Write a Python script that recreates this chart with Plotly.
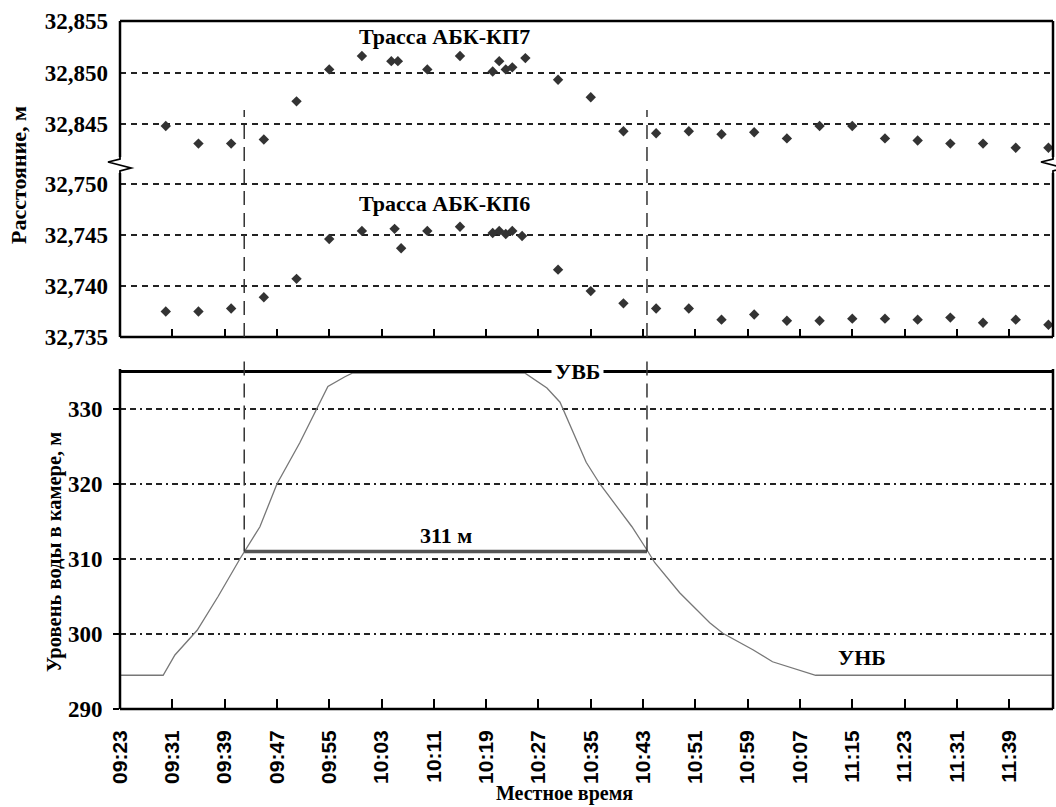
import plotly.graph_objects as go

# ---------------- data ----------------
tick_minutes = [0, 8, 16, 24, 32, 40, 48, 56, 64, 72, 80, 88, 96, 104, 112, 120, 128, 136]
tick_labels = ["09:23", "09:31", "09:39", "09:47", "09:55", "10:03", "10:11", "10:19", "10:27",
               "10:35", "10:43", "10:51", "10:59", "10:07", "11:15", "11:23", "11:31", "11:39"]

# minutes after 09:23
kp7_t = [7, 12, 17, 22, 27, 32, 37, 41.5, 42.5, 47, 52, 57, 58, 59, 60, 62, 67, 72, 77, 82, 87,
         92, 97, 102, 107, 112, 117, 122, 127, 132, 137, 142]
kp7_d = [32.8448, 32.8431, 32.8431, 32.8435, 32.8472, 32.8503, 32.8516, 32.8511, 32.8511, 32.8503,
         32.8516, 32.8501, 32.8511, 32.8503, 32.8505, 32.8514, 32.8493, 32.8476, 32.8443, 32.8441,
         32.8443, 32.8440, 32.8442, 32.8436, 32.8448, 32.8448, 32.8436, 32.8434, 32.8431, 32.8431,
         32.8427, 32.8427]

kp6_t = [7, 12, 17, 22, 27, 32, 37, 42, 43, 47, 52, 57, 58, 59, 60, 61.5, 67, 72, 77, 82, 87,
         92, 97, 102, 107, 112, 117, 122, 127, 132, 137, 142]
kp6_d = [32.7375, 32.7375, 32.7378, 32.7389, 32.7407, 32.7446, 32.7454, 32.7456, 32.7437, 32.7454,
         32.7458, 32.7452, 32.7454, 32.7451, 32.7454, 32.7449, 32.7416, 32.7395, 32.7383, 32.7378,
         32.7378, 32.7367, 32.7372, 32.7366, 32.7366, 32.7368, 32.7368, 32.7367, 32.7369, 32.7364,
         32.7367, 32.7362]

level_t = [0, 6.6, 8.4, 11.8, 15.0, 18.4, 21.4, 24.0, 27.5, 29.4, 31.8, 34.4, 35.6, 61.9, 65.3,
           67.3, 71.3, 73.4, 78.3, 80.6, 81.8, 85.6, 87.2, 90.2, 92.2, 96.8, 99.8, 102.9, 106.4, 142.7]
level_h = [294.5, 294.5, 297.2, 300.5, 305.0, 310.1, 314.3, 320.0, 325.5, 328.8, 333.0, 334.3, 334.8,
           334.8, 332.8, 330.9, 322.9, 320.0, 314.3, 311.2, 309.5, 305.5, 304.1, 301.5, 300.1, 297.9,
           296.3, 295.5, 294.5, 294.5]

crossing_t = [19.0, 80.6]
crossing_level = 311
uvb_level = 335.0
unb_level = 294.5

top_ticks_upper = [32.845, 32.850, 32.855]
top_ticks_lower = [32.735, 32.740, 32.745, 32.750]
bottom_ticks = [290, 300, 310, 320, 330]

# ---------------- layout geometry ----------------
W, H = 1056, 807
L, R, T, B = 120, 3, 21, 98
PW, PH = W - L - R, H - T - B


def px(xp):
    return (xp - L) / PW


def py(yp):
    return (H - B - yp) / PH


x_range = [0, 142.7]
up_dom = [py(165), 1.0]
lo_dom = [py(337), py(165)]
bot_dom = [0.0, py(369)]
up_range = [32.84102, 32.855]
lo_range = [32.735, 32.75186]
bot_range = [290, 335.33]

SERIF = "Liberation Serif"
SANS = "Liberation Sans"


def fmt(v):
    return f"{v:.3f}".replace(".", ",")


fig = go.Figure()

fig.add_trace(go.Scatter(x=kp7_t, y=kp7_d, mode="markers", xaxis="x2", yaxis="y",
                         marker=dict(symbol="diamond", size=8, color="#333333")))
fig.add_trace(go.Scatter(x=kp6_t, y=kp6_d, mode="markers", xaxis="x2", yaxis="y2",
                         marker=dict(symbol="diamond", size=8, color="#333333")))
fig.add_trace(go.Scatter(x=level_t, y=level_h, mode="lines", xaxis="x", yaxis="y3",
                         line=dict(color="#777777", width=1.3)))
fig.add_trace(go.Scatter(x=crossing_t, y=[crossing_level, crossing_level], mode="lines",
                         xaxis="x", yaxis="y3", line=dict(color="#555555", width=3.5)))

grid_top = dict(showgrid=True, gridcolor="#222222", gridwidth=1.5, griddash="6px,5px")
fig.update_layout(
    width=W, height=H, margin=dict(l=L, r=R, t=T, b=B, autoexpand=False),
    paper_bgcolor="white", plot_bgcolor="white", showlegend=False,
    xaxis=dict(domain=[0, 1], anchor="y3", range=x_range, tickmode="array", automargin=False,
               tickvals=tick_minutes, ticktext=tick_labels, tickangle=-90,
               ticks="inside", ticklen=10, tickwidth=1.5, tickcolor="black",
               showgrid=False, zeroline=False, ticklabelstandoff=16,
               tickfont=dict(family=SANS, size=21, color="black", weight="bold")),
    xaxis2=dict(domain=[0, 1], anchor="y2", matches="x", range=x_range, tickmode="array",
                automargin=False,
                tickvals=tick_minutes, showticklabels=False, ticks="inside", ticklen=8,
                tickwidth=1.5, tickcolor="black", showgrid=False, zeroline=False),
    yaxis=dict(domain=up_dom, anchor="x2", range=up_range, tickmode="array", automargin=False,
               tickvals=top_ticks_upper, ticktext=[fmt(v) for v in top_ticks_upper],
               zeroline=False, ticks="", ticklabelstandoff=11,
               tickfont=dict(family=SERIF, size=23, color="black", weight="bold"), **grid_top),
    yaxis2=dict(domain=lo_dom, anchor="x2", range=lo_range, tickmode="array", automargin=False,
                tickvals=top_ticks_lower, ticktext=[fmt(v) for v in top_ticks_lower],
                zeroline=False, ticks="", ticklabelstandoff=11,
                tickfont=dict(family=SERIF, size=23, color="black", weight="bold"), **grid_top),
    yaxis3=dict(domain=bot_dom, anchor="x", range=bot_range, tickmode="array", automargin=False,
                tickvals=bottom_ticks, ticktext=[str(v) for v in bottom_ticks],
                zeroline=False, ticks="outside", ticklen=6, tickwidth=1.5, tickcolor="black",
                ticklabelstandoff=6,
                tickfont=dict(family=SERIF, size=23, color="black", weight="bold"),
                showgrid=True, gridcolor="#222222", gridwidth=1.5,
                griddash="6px,4px,6px,4px,2px,4px"),
)

shapes = []
LW = 2.5
# top panel frame (with break on left/right sides)
shapes.append(dict(type="line", xref="paper", yref="paper", x0=0, x1=1, y0=1, y1=1,
                   line=dict(color="black", width=LW)))
shapes.append(dict(type="line", xref="paper", yref="paper", x0=0, x1=1, y0=lo_dom[0], y1=lo_dom[0],
                   line=dict(color="black", width=LW)))
for xe in (0, 1):
    shapes.append(dict(type="line", xref="paper", yref="paper", x0=xe, x1=xe, y0=py(157), y1=1,
                       line=dict(color="black", width=LW)))
    shapes.append(dict(type="line", xref="paper", yref="paper", x0=xe, x1=xe, y0=lo_dom[0], y1=py(173),
                       line=dict(color="black", width=LW)))


def zig(x0p, d):
    pts = [(x0p, 157), (x0p, 159), (x0p - d * 12, 162), (x0p + d * 11, 168), (x0p, 171), (x0p, 173)]
    return "M " + " L ".join(f"{px(a):.5f},{py(b):.5f}" for a, b in pts)


shapes.append(dict(type="path", xref="paper", yref="paper", path=zig(120, 1),
                   line=dict(color="black", width=1.8)))
shapes.append(dict(type="path", xref="paper", yref="paper", path=zig(1053, 1),
                   line=dict(color="black", width=1.8)))

# bottom panel frame: left, right, bottom (top edge is the УВБ line)
for xe in (0, 1):
    shapes.append(dict(type="line", xref="paper", yref="paper", x0=xe, x1=xe, y0=0, y1=bot_dom[1],
                       line=dict(color="black", width=LW)))
shapes.append(dict(type="line", xref="paper", yref="paper", x0=0, x1=1, y0=0, y1=0,
                   line=dict(color="black", width=LW)))
# УВБ line
shapes.append(dict(type="line", xref="x", yref="y3", x0=x_range[0], x1=x_range[1],
                   y0=uvb_level, y1=uvb_level, line=dict(color="black", width=3)))

# vertical event lines
lvl_paper = bot_dom[0] + (bot_dom[1] - bot_dom[0]) * (crossing_level - bot_range[0]) / (bot_range[1] - bot_range[0])
for t in crossing_t:
    shapes.append(dict(type="line", xref="x", yref="paper", x0=t, x1=t, y0=lo_dom[0], y1=py(110),
                       line=dict(color="#333333", width=1.5, dash="14px,8px")))
    shapes.append(dict(type="line", xref="x", yref="paper", x0=t, x1=t, y0=lvl_paper, y1=py(360),
                       line=dict(color="#333333", width=1.5, dash="14px,8px")))

fig.update_layout(shapes=shapes)

ann_font = dict(family=SERIF, size=22, color="black", weight="bold")
annotations = [
    dict(text="Трасса АБК-КП7", x=49.6, y=32.8535, xref="x2", yref="y", showarrow=False, font=ann_font,
         xanchor="center", yanchor="middle"),
    dict(text="Трасса АБК-КП6", x=49.6, y=32.7481, xref="x2", yref="y2", showarrow=False, font=ann_font,
         xanchor="center", yanchor="middle"),
    dict(text="УВБ", x=69.9, y=uvb_level, xref="x", yref="y3", showarrow=False, font=ann_font,
         bgcolor="white", borderpad=3, xanchor="center", yanchor="middle"),
    dict(text="311 м", x=sum(crossing_t) / 2, y=crossing_level, xref="x", yref="y3", showarrow=False,
         xanchor="center", yanchor="bottom", yshift=1, font=ann_font),
    dict(text="УНБ", x=113.5, y=unb_level, xref="x", yref="y3", showarrow=False,
         xanchor="center", yanchor="bottom", yshift=3, font=ann_font),
    dict(text="Расстояние, м", x=px(19), y=py(175), xref="paper", yref="paper", showarrow=False,
         xanchor="center", yanchor="middle", textangle=-90,
         font=dict(family=SERIF, size=22, color="black", weight="bold")),
    dict(text="Уровень воды в камере, м", x=px(54), y=py(552), xref="paper", yref="paper",
         xanchor="center", yanchor="middle", showarrow=False, textangle=-90,
         font=dict(family=SERIF, size=20.5, color="black", weight="bold")),
    dict(text="Местное время", x=px(564), y=py(793), xref="paper", yref="paper", showarrow=False,
         xanchor="center", yanchor="middle",
         font=dict(family=SERIF, size=20, color="black", weight="bold")),
]
fig.update_layout(annotations=annotations)

fig.write_html("out.html", post_script="document.body.style.margin='0';",
               config={"displayModeBar": False})
